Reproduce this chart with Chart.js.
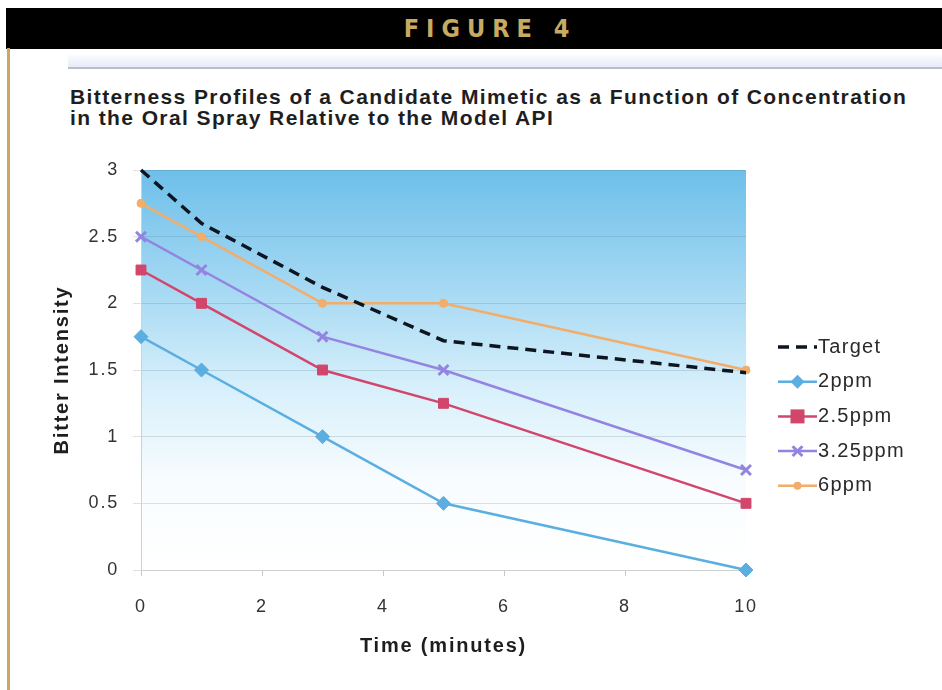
<!DOCTYPE html>
<html>
<head>
<meta charset="utf-8">
<script src="https://cdn.jsdelivr.net/npm/chart.js@4/dist/chart.umd.min.js"></script>
<style>
  html, body { margin:0; padding:0; background:#fff; }
  #wrap { position:relative; width:942px; height:690px; overflow:hidden; background:#fff; }
  #leftbar { position:absolute; left:7px; top:48px; width:3px; height:642px; background:#c9a95e; }
  #header { position:absolute; left:6px; top:8px; width:936px; height:41px; background:#000; }
  #header span { position:absolute; left:0; width:100%; top:6px; text-align:center; color:#c8aa62;
     font-family:"DejaVu Sans Condensed","DejaVu Sans",sans-serif; font-stretch:condensed; font-weight:bold;
     font-size:25px; letter-spacing:7px; padding-left:32px; box-sizing:border-box; }
  #band { position:absolute; left:68px; top:55px; width:874px; height:12px;
     background:linear-gradient(to bottom, rgba(240,244,252,0.3), rgba(228,234,246,0.95)); }
  #rule { position:absolute; left:68px; top:67px; width:874px; height:2px; background:#b8bed0; }
  #title { position:absolute; left:70px; top:86px; font-family:"Liberation Sans",Arial,sans-serif;
     font-weight:bold; font-size:21px; line-height:21px; letter-spacing:1.4px; color:#1e1e1e; white-space:nowrap; }
  canvas { position:absolute; left:0; top:0; }
</style>
</head>
<body>
<div id="wrap">
  <div id="header"><span>FIGURE 4</span></div>
  <div id="leftbar"></div>
  <div id="band"></div>
  <div id="rule"></div>
  <div id="title">Bitterness Profiles of a Candidate Mimetic as a Function of Concentration<br>in the Oral Spray Relative to the Model API</div>
  <canvas id="c" width="942" height="690"></canvas>
</div>
<script>
const times = [0, 1, 3, 5, 10];
const seriesNames = ["Target", "2ppm", "2.5ppm", "3.25ppm", "6ppm"];
const target = [3.0, 2.6, 2.12, 1.72, 1.48];
const ppm2 = [1.75, 1.5, 1.0, 0.5, 0.0];
const ppm25 = [2.25, 2.0, 1.5, 1.25, 0.5];
const ppm325 = [2.5, 2.25, 1.75, 1.5, 0.75];
const ppm6 = [2.75, 2.5, 2.0, 2.0, 1.5];
const xTicks = [0, 2, 4, 6, 8, 10];
const yTicks = [0, 0.5, 1, 1.5, 2, 2.5, 3];

function pts(vals) { return vals.map((v, i) => ({ x: times[i], y: v })); }

const styles = [
  { color: "#0d1520", dash: [11, 7], width: 3.5, point: false, radius: 0 },
  { color: "#5aaee0", dash: [], width: 2.5, point: "rectRot", radius: 7 },
  { color: "#d2466c", dash: [], width: 2.5, point: "rect", radius: 7 },
  { color: "#9484e2", dash: [], width: 2.5, point: "crossRot", radius: 7 },
  { color: "#f2ad6a", dash: [], width: 2.5, point: "circle", radius: 4 }
];
const allVals = [target, ppm2, ppm25, ppm325, ppm6];

const datasets = allVals.map((vals, i) => ({
  label: seriesNames[i],
  data: pts(vals),
  borderColor: styles[i].color,
  backgroundColor: styles[i].color,
  borderWidth: styles[i].width,
  borderDash: styles[i].dash,
  pointStyle: styles[i].point,
  pointRadius: styles[i].radius,
  pointBorderWidth: styles[i].point === "crossRot" ? 3 : 1,
  pointBorderColor: styles[i].color,
  pointBackgroundColor: styles[i].color,
  tension: 0,
  fill: false,
  clip: false,
  order: i === 0 ? 0 : 1
}));

const spacingPlugin = {
  id: "spacing",
  beforeLayout(chart) { chart.ctx.letterSpacing = "1.8px"; },
  beforeDraw(chart) { chart.ctx.letterSpacing = "1.8px"; }
};

const bgPlugin = {
  id: "bg",
  beforeDraw(chart) {
    const { ctx, chartArea: a } = chart;
    const g = ctx.createLinearGradient(0, a.top, 0, a.bottom);
    g.addColorStop(0, "#6dbfea");
    g.addColorStop(0.3, "#a6d9f3");
    g.addColorStop(0.55, "#d8f0fb");
    g.addColorStop(0.78, "#f8fcfe");
    g.addColorStop(1, "#ffffff");
    ctx.save();
    ctx.fillStyle = g;
    ctx.fillRect(a.left, a.top, a.right - a.left, a.bottom - a.top);
    ctx.restore();
  }
};

function drawMarker(ctx, style, r, x, y, color) {
  ctx.save();
  ctx.fillStyle = color; ctx.strokeStyle = color;
  ctx.setLineDash([]);
  if (style === "rectRot") {
    ctx.beginPath(); ctx.moveTo(x, y - r); ctx.lineTo(x + r, y); ctx.lineTo(x, y + r); ctx.lineTo(x - r, y); ctx.closePath(); ctx.fill();
  } else if (style === "rect") {
    ctx.fillRect(x - r, y - r, 2 * r, 2 * r);
  } else if (style === "crossRot") {
    ctx.lineWidth = 3; ctx.beginPath();
    ctx.moveTo(x - r * 0.7, y - r * 0.7); ctx.lineTo(x + r * 0.7, y + r * 0.7);
    ctx.moveTo(x + r * 0.7, y - r * 0.7); ctx.lineTo(x - r * 0.7, y + r * 0.7); ctx.stroke();
  } else if (style === "circle") {
    ctx.beginPath(); ctx.arc(x, y, r, 0, Math.PI * 2); ctx.fill();
  }
  ctx.restore();
}

const legendPlugin = {
  id: "customLegend",
  afterDraw(chart) {
    const ctx = chart.ctx;
    const x0 = 778, x1 = 817, y0 = 347, dy = 34.7;
    chart.data.datasets.forEach((d, i) => {
      const y = y0 + i * dy;
      ctx.save();
      ctx.strokeStyle = d.borderColor;
      ctx.lineWidth = d.borderWidth;
      ctx.setLineDash(d.borderDash || []);
      ctx.beginPath(); ctx.moveTo(x0, y); ctx.lineTo(x1, y); ctx.stroke();
      ctx.restore();
      if (d.pointStyle) drawMarker(ctx, d.pointStyle, d.pointRadius, (x0 + x1) / 2, y, d.borderColor);
      ctx.save();
      ctx.fillStyle = "#2a2a2a";
      ctx.letterSpacing = "1.3px";
      ctx.font = "20px 'Liberation Sans', Arial, sans-serif";
      ctx.textBaseline = "middle";
      ctx.fillText(d.label, x1 + 1, y);
      ctx.restore();
    });
  }
};

const tickFont = { family: "'Liberation Sans', Arial, sans-serif", size: 18 };
const titleFont = { family: "'Liberation Sans', Arial, sans-serif", size: 20, weight: "bold" };

new Chart(document.getElementById("c"), {
  type: "line",
  data: { datasets },
  options: {
    responsive: false,
    animation: false,
    devicePixelRatio: 1,
    layout: { padding: { left: 46, top: 170, right: 196, bottom: 32 } },
    plugins: { legend: { display: false }, tooltip: { enabled: false } },
    scales: {
      x: {
        type: "linear", min: 0, max: 10,
        afterBuildTicks: s => { s.ticks = xTicks.map(v => ({ value: v })); },
        ticks: { color: "#333", font: tickFont, padding: 20, callback: v => String(v) },
        grid: { drawOnChartArea: false, drawTicks: true, tickLength: 6, color: "#c8c8c8" },
        border: { display: true, color: "#d0d0d0" },
        title: { display: true, text: "Time (minutes)", color: "#1e1e1e", padding: { top: 0, bottom: 0 }, font: titleFont },
        afterFit: s => { s.height = 88; }
      },
      y: {
        min: 0, max: 3,
        afterBuildTicks: s => { s.ticks = yTicks.map(v => ({ value: v })); },
        ticks: { color: "#333", font: tickFont, padding: 14, callback: v => String(v) },
        grid: { color: "rgba(90,105,120,0.2)", tickLength: 8, lineWidth: 1 },
        border: { display: true, color: "#d0d0d0" },
        title: { display: true, text: "Bitter Intensity", color: "#1e1e1e", padding: { top: 4, bottom: 0 }, font: titleFont },
        afterFit: s => { s.width = 95; }
      }
    }
  },
  plugins: [spacingPlugin, bgPlugin, legendPlugin]
});
</script>
</body>
</html>
